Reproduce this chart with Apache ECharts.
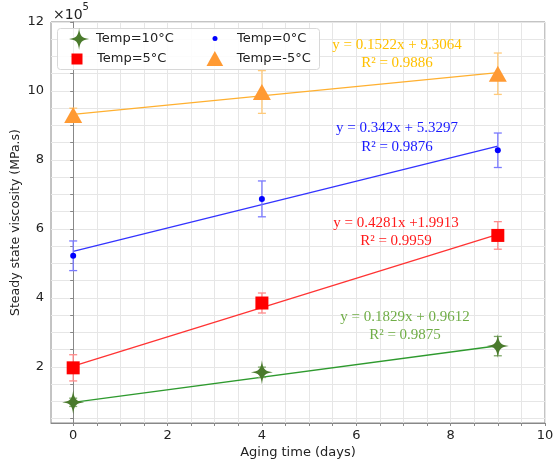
<!DOCTYPE html>
<html><head><meta charset="utf-8">
<script src="https://cdn.jsdelivr.net/npm/echarts@6/dist/echarts.min.js"></script>
<style>html,body{margin:0;padding:0;background:#fff}#c{width:553px;height:466px}</style>
</head><body><div id="c"></div>
<script>
// ---- data ----
const days = [0, 4, 9];
const names = ['Temp=10°C', 'Temp=5°C', 'Temp=0°C', 'Temp=-5°C'];
const v10 = [0.97, 1.84, 2.60];  const e10 = [0.12, 0.15, 0.28];
const v5  = [1.97, 3.85, 5.81];  const e5  = [0.38, 0.29, 0.40];
const v0  = [5.22, 6.87, 8.28];  const e0  = [0.43, 0.52, 0.50];
const vm5 = [9.30, 9.97, 10.50]; const em5 = [0.20, 0.62, 0.60];
const trendDays = [0, 9];
const t10 = [0.97, 2.61];
const t5  = [2.02, 5.84];
const t0  = [5.35, 8.40];
const tm5 = [9.32, 10.53];
const xTickLabels = [0, 2, 4, 6, 8, 10];
const xTicks = [0,0.5,1,1.5,2,2.5,3,3.5,4,4.5,5,5.5,6,6.5,7,7.5,8,8.5,9,9.5,10];
const yTickLabels = [2, 4, 6, 8, 10, 12];
const yTicks = [0.5,1,1.5,2,2.5,3,3.5,4,4.5,5,5.5,6,6.5,7,7.5,8,8.5,9,9.5,10,10.5,11,11.5,12];
const eqLines = [
  ['y = 0.1522x + 9.3064', 'R² = 0.9886'],
  ['y = 0.342x + 5.3297', 'R² = 0.9876'],
  ['y = 0.4281x +1.9913', 'R² = 0.9959'],
  ['y = 0.1829x + 0.9612', 'R² = 0.9875']
];

const STAR = 'path://M0,-12 C1,-3 3,-1 11,0 C3,1 1,3 0,12 C-1,3 -3,1 -11,0 C-3,-1 -1,-3 0,-12 Z';
const SQUARE = 'path://M0,0 L10,0 L10,10 L0,10 Z';
const TRI = 'path://M0,-10 L10,8 L-10,8 Z';
const FONT = 'DejaVu Sans';

function pts(xs, ys) { return xs.map((x, i) => [x, ys[i]]); }
function errSeries(vals, errs, color) {
  return {
    type: 'custom', silent: true, z: 3,
    data: days.map((d, i) => [d, vals[i] - errs[i], vals[i] + errs[i]]),
    encode: { x: 0, y: [1, 2] },
    renderItem: function (params, api) {
      const lo = api.coord([api.value(0), api.value(1)]);
      const hi = api.coord([api.value(0), api.value(2)]);
      const w = 4;
      const st = { stroke: color, lineWidth: 1.3 };
      return { type: 'group', children: [
        { type: 'line', shape: { x1: lo[0], y1: lo[1], x2: hi[0], y2: hi[1] }, style: st },
        { type: 'line', shape: { x1: lo[0] - w, y1: lo[1], x2: lo[0] + w, y2: lo[1] }, style: st },
        { type: 'line', shape: { x1: hi[0] - w, y1: hi[1], x2: hi[0] + w, y2: hi[1] }, style: st }
      ]};
    }
  };
}
function trend(ys, color) {
  return { type: 'line', data: pts(trendDays, ys), symbol: 'none', silent: true, z: 2,
    lineStyle: { color: color, width: 1.3 } };
}
function legendOf(name, icon, left, top, w, h, pad) {
  return { data: [{ name: name, icon: icon }], left: left, top: top, itemWidth: w, itemHeight: h,
    padding: 0, selectedMode: false, symbolKeepAspect: true,
    textStyle: { fontFamily: FONT, fontSize: 13, color: '#222', padding: [0, 0, 0, pad] } };
}
function eqText(lines, cx, cy1, cy2, color) {
  const st = { fontFamily: 'Liberation Serif', fontSize: 15, fill: color, textAlign: 'center', textVerticalAlign: 'middle' };
  return [
    { type: 'text', x: cx, y: cy1, z: 5, style: Object.assign({ text: lines[0] }, st) },
    { type: 'text', x: cx, y: cy2, z: 5, style: Object.assign({ text: lines[1] }, st) }
  ];
}

const chart = echarts.init(document.getElementById('c'), null, { renderer: 'canvas' });
chart.setOption({
  animation: false,
  backgroundColor: '#fff',
  grid: { left: 51, right: 8, top: 22, bottom: 43, containLabel: false, outerBoundsMode: 'none',
    show: true, borderColor: '#888', borderWidth: 1 },
  xAxis: {
    type: 'value', min: -0.47, max: 10,
    name: 'Aging time (days)', nameLocation: 'middle', nameGap: 23, nameMoveOverlap: false,
    nameTextStyle: { fontFamily: FONT, fontSize: 13, color: '#222' },
    axisLine: { show: true, lineStyle: { color: '#888' } },
    axisTick: { show: true, customValues: xTicks, length: 3, lineStyle: { color: '#888' } },
    axisLabel: { customValues: xTickLabels, fontFamily: FONT, fontSize: 13, color: '#222', margin: 6 },
    splitLine: { show: true, lineStyle: { color: '#e6e6e6', width: 1 } }
  },
  yAxis: {
    type: 'value', min: 0.37, max: 12,
    name: 'Steady state viscosity (MPa.s)', nameLocation: 'middle', nameGap: 29, nameMoveOverlap: false,
    nameTextStyle: { fontFamily: FONT, fontSize: 12.5, color: '#222' },
    axisLine: { show: true, lineStyle: { color: '#888' } },
    axisTick: { show: true, customValues: yTicks, length: 3, lineStyle: { color: '#888' } },
    axisLabel: { customValues: yTickLabels, fontFamily: FONT, fontSize: 13, color: '#222', margin: 7 },
    splitLine: { show: true, lineStyle: { color: '#e6e6e6', width: 1 } }
  },
  legend: [
    legendOf(names[0], STAR, 69, 28, 22, 22, 1),
    legendOf(names[1], SQUARE, 71.5, 52.5, 11, 11, 9.5),
    legendOf(names[2], 'circle', 212.5, 32, 5, 5, 14.5),
    legendOf(names[3], TRI, 206.5, 51, 17, 15, 8.5)
  ],
  graphic: [
    { type: 'rect', z: 3, shape: { x: 57.5, y: 28.5, width: 262, height: 41, r: 3 },
      style: { fill: 'rgba(255,255,255,0.85)', stroke: '#d8d8d8', lineWidth: 1 } },
    { type: 'text', x: 53, y: 2, z: 5, style: {
      text: '{a|×10}{b|5}', rich: {
        a: { fontFamily: FONT, fontSize: 14, fill: '#222', verticalAlign: 'bottom', lineHeight: 20 },
        b: { fontFamily: FONT, fontSize: 10, fill: '#222', verticalAlign: 'top', lineHeight: 20, padding: [0, 0, 8, 0] } } } }
  ].concat(
    eqText(eqLines[0], 397, 45, 63, '#ffc000'),
    eqText(eqLines[1], 397, 128, 147, '#1a1aff'),
    eqText(eqLines[2], 396, 223, 241, '#ff1a1a'),
    eqText(eqLines[3], 405, 317, 335, '#70ad47')
  ),
  series: [
    trend(t10, '#2e9a2e'), trend(t5, '#ff3333'), trend(t0, '#3333ff'), trend(tm5, '#ffb030'),
    errSeries(v10, e10, '#7fa86a'), errSeries(v5, e5, '#ff8a8a'), errSeries(v0, e0, '#7a7aff'), errSeries(vm5, em5, '#ffca7a'),
    { name: names[0], type: 'scatter', z: 4, data: pts(days, v10), symbol: STAR, symbolSize: [22, 24], symbolKeepAspect: false,
      itemStyle: { color: '#4a7a2c', opacity: 1 } },
    { name: names[1], type: 'scatter', z: 4, data: pts(days, v5), symbol: SQUARE, symbolSize: 13,
      itemStyle: { color: '#ff0000', opacity: 1 } },
    { name: names[2], type: 'scatter', z: 4, data: pts(days, v0), symbol: 'circle', symbolSize: 6,
      itemStyle: { color: '#0000ff', opacity: 1 } },
    { name: names[3], type: 'scatter', z: 4, data: pts(days, vm5), symbol: TRI, symbolSize: [18, 16],
      itemStyle: { color: '#ff9a33', opacity: 1 } }
  ]
});
</script>
</body></html>
